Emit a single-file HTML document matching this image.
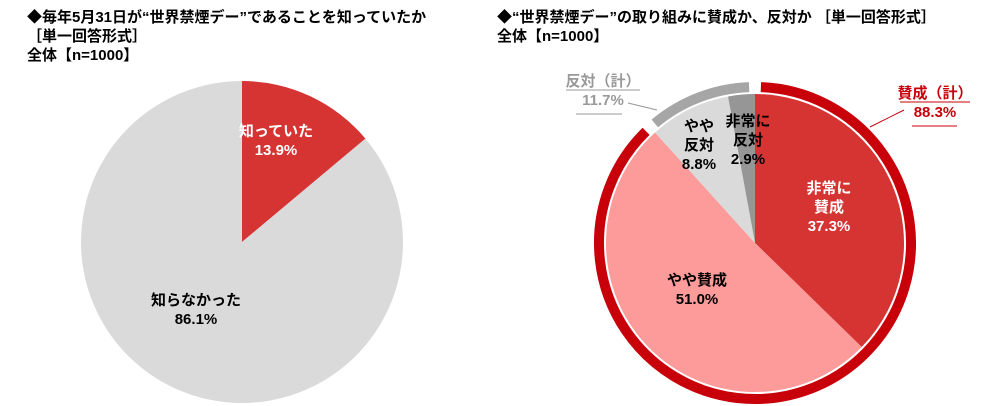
<!DOCTYPE html>
<html><head><meta charset="utf-8">
<style>
html,body{margin:0;padding:0;background:#fff;width:1000px;height:406px;overflow:hidden}
.t{position:absolute;font-family:"Liberation Sans","Noto Sans CJK JP",sans-serif;font-weight:bold;font-size:15px;line-height:19px;color:#000;white-space:nowrap}
svg{position:absolute;left:0;top:0}
svg text{font-family:"Liberation Sans","Noto Sans CJK JP",sans-serif}
</style></head><body>
<div class="t" style="left:27px;top:8px">◆毎年5月31日が“世界禁煙デー”であることを知っていたか<br>［単一回答形式］<br>全体【n=1000】</div>
<div class="t" style="left:497px;top:8px">◆“世界禁煙デー”の取り組みに賛成か、反対か ［単一回答形式］<br>全体【n=1000】</div>
<svg id="c" width="1000" height="406"></svg>
<script>
const leftLabels=["知っていた","知らなかった"];
const leftValues=[13.9,86.1];
const leftColors=["#d63333","#dadada"];
const rightLabels=["非常に賛成","やや賛成","やや反対","非常に反対"];
const rightValues=[37.3,51.0,8.8,2.9];
const rightColors=["#d63333","#fd9a9a","#dadada","#969696"];
const ringLabels=["賛成(計)","反対(計)"];
const ringValues=[88.3,11.7];
const ringColors=["#c8000a","#a6a6a6"];
const NS="http://www.w3.org/2000/svg";
const svg=document.getElementById('c');
function pt(cx,cy,r,a){const t=(a*3.6-90)*Math.PI/180;return [cx+r*Math.cos(t),cy+r*Math.sin(t)];}
function wedge(cx,cy,r,a0,a1,col,name){
  const p=document.createElementNS(NS,'path');
  const [x0,y0]=pt(cx,cy,r,a0),[x1,y1]=pt(cx,cy,r,a1);
  const lg=(a1-a0)>50?1:0;
  p.setAttribute('d',`M${cx},${cy}L${x0},${y0}A${r},${r} 0 ${lg} 1 ${x1},${y1}Z`);
  p.setAttribute('fill',col);
  
  
  svg.appendChild(p);
}
function arc(cx,cy,r,a0,a1,col,w,name){
  const p=document.createElementNS(NS,'path');
  const [x0,y0]=pt(cx,cy,r,a0),[x1,y1]=pt(cx,cy,r,a1);
  const lg=(a1-a0)>50?1:0;
  p.setAttribute('d',`M${x0},${y0}A${r},${r} 0 ${lg} 1 ${x1},${y1}`);
  p.setAttribute('fill','none');p.setAttribute('stroke',col);p.setAttribute('stroke-width',w);
  
  
  svg.appendChild(p);
}
function txt(x,y,lines,col,size,name,anchor){
  const t=document.createElementNS(NS,'text');
  t.setAttribute('x',x);t.setAttribute('y',y);t.setAttribute('fill',col);
  t.setAttribute('font-size',size);t.setAttribute('font-weight','bold');t.setAttribute('text-anchor',anchor||'middle');
  
  
  lines.forEach((l,i)=>{const s=document.createElementNS(NS,'tspan');s.setAttribute('x',x);s.setAttribute('dy',i?19:0);s.textContent=l;t.appendChild(s);});
  svg.appendChild(t);
}
// left pie
let a=0;
leftValues.forEach((v,i)=>{wedge(242,242,161,a,a+v,leftColors[i],'left-slice-'+i);a+=v;});
txt(276,136,[leftLabels[0],leftValues[0].toFixed(1)+"%"],"#fff",15,'left-label-known');
txt(196,305,[leftLabels[1],leftValues[1].toFixed(1)+"%"],"#000",15,'left-label-unknown');
// right pie
a=0;
rightValues.forEach((v,i)=>{wedge(755,243,149,a,a+v,rightColors[i],'right-slice-'+i);a+=v;});
a=0;
ringValues.forEach((v,i)=>{arc(755,243,156,a+0.6,a+v-0.6,ringColors[i],10,'ring-'+i);a+=v;});
txt(829,193,["非常に","賛成",rightValues[0].toFixed(1)+"%"],"#fff",15,'label-strong-agree');
txt(697,285,["やや賛成",rightValues[1].toFixed(1)+"%"],"#000",15,'label-agree');
txt(699,131,["やや","反対",rightValues[2].toFixed(1)+"%"],"#000",15,'label-disagree');
txt(748,126,["非常に","反対",rightValues[3].toFixed(1)+"%"],"#000",15,'label-strong-disagree');
txt(935,98,[ringLabels[0].replace('(','（').replace(')','）'),ringValues[0].toFixed(1)+"%"],"#c8000a",15,'ring-label-agree');
txt(603,86,[ringLabels[1].replace('(','（').replace(')','）'),ringValues[1].toFixed(1)+"%"],"#999",15,'ring-label-disagree');
[[900,102,970,102],[912,126,957,126],[566,90,640,90],[576,114,622,114]].forEach((l,i)=>{
  const e=document.createElementNS(NS,'line');
  e.setAttribute('x1',l[0]);e.setAttribute('y1',l[1]);e.setAttribute('x2',l[2]);e.setAttribute('y2',l[3]);
  e.setAttribute('stroke',i<2?'#c8000a':'#999');e.setAttribute('stroke-width',1);
  
  
  svg.appendChild(e);
});
[[904,110,870,127,'#c8000a'],[628,103,657,110,'#999']].forEach(l=>{
  const e=document.createElementNS(NS,'line');
  e.setAttribute('x1',l[0]);e.setAttribute('y1',l[1]);e.setAttribute('x2',l[2]);e.setAttribute('y2',l[3]);
  e.setAttribute('stroke',l[4]);e.setAttribute('stroke-width',1);
  
  
  svg.appendChild(e);
});
</script>
</body></html>
